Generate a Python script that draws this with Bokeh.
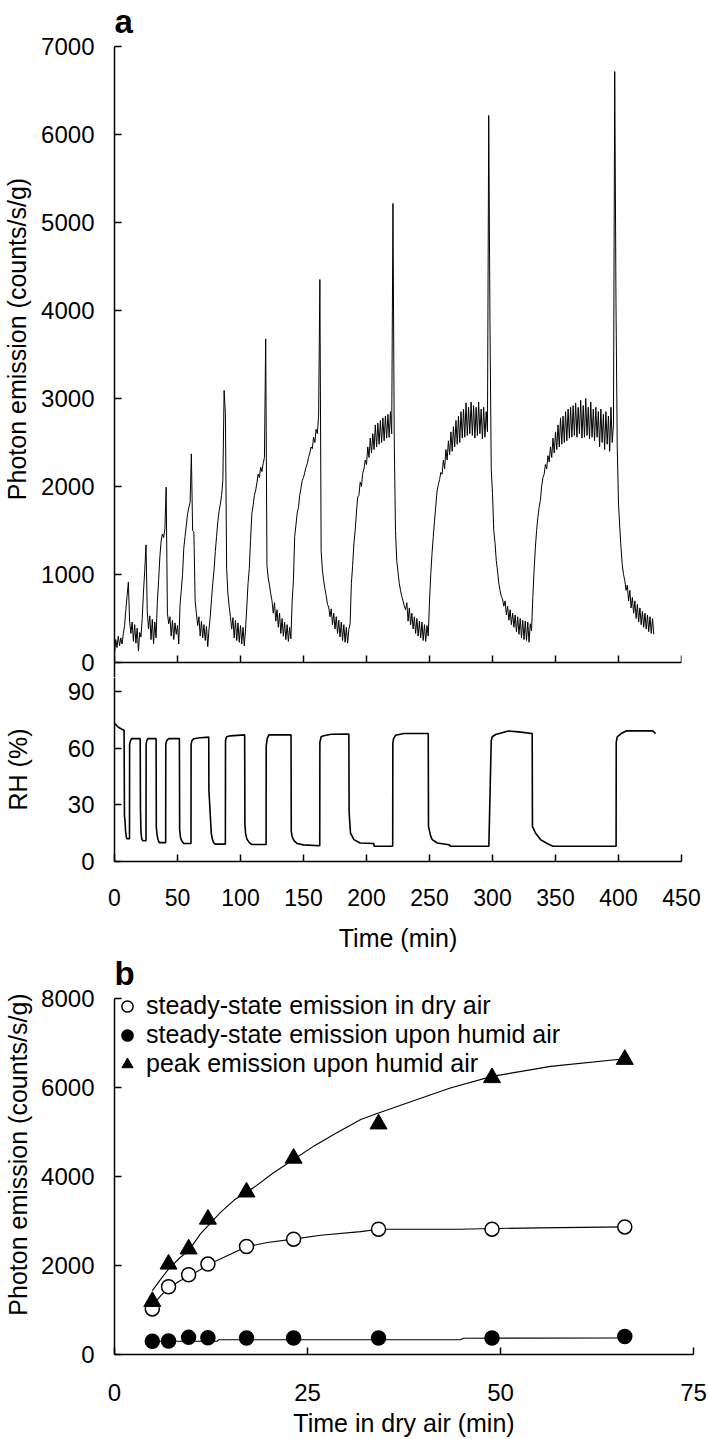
from bokeh.plotting import figure
from bokeh.layouts import column
from bokeh.models import Range1d, FixedTicker, Label, Legend, LegendItem, CustomJSTickFormatter
from bokeh.embed import file_html
from bokeh.resources import INLINE

FONT = "Liberation Sans"

# ---------------- panel a: photon emission trace (one value per minute) ----------------
photon_time = list(range(429))
photon_values = [
    100, 260, 170, 300, 190, 280, 210, 330, 420, 600,
    760, 913, 470, 330, 460, 240, 430, 220, 390, 130,
    340, 290, 500, 800, 1050, 1337, 580, 380, 530, 260,
    490, 210, 460, 280, 690, 930, 1200, 1380, 1460, 1420,
    1520, 1992, 560, 440, 520, 300, 480, 260, 450, 320,
    420, 210, 650, 820, 1000, 1300, 1430, 1560, 1690, 1760,
    1820, 2371, 1500, 1480, 700, 560, 420, 520, 300, 470,
    280, 430, 250, 410, 180, 380, 520, 720, 900, 1050,
    1260, 1430, 1600, 1720, 1800, 1900, 2070, 3091, 2830, 1070,
    780, 640, 520, 380, 510, 280, 480, 250, 450, 230,
    420, 210, 400, 190, 380, 630, 900, 1070, 1400, 1690,
    1780, 1900, 1950, 2040, 2140, 2100, 2220, 2170, 2260, 2330,
    3678, 1100, 960, 880, 780, 700, 560, 680, 470, 600,
    400, 560, 330, 500, 300, 460, 260, 430, 240, 400,
    270, 700, 930, 1430, 1560, 1700, 1760, 1900, 1980, 2070,
    2100, 2160, 2220, 2260, 2330, 2380, 2450, 2430, 2560, 2500,
    2650, 2600, 2800, 4352, 1270, 1050, 930, 840, 760, 660,
    630, 520, 610, 430, 560, 380, 520, 330, 480, 290,
    460, 250, 430, 230, 400, 220, 380, 440, 900, 1100,
    1350, 1500, 1700, 1880, 1900, 2050, 2000, 2150, 2200, 2300,
    2250, 2450, 2330, 2550, 2380, 2600, 2420, 2700, 2450, 2720,
    2480, 2750, 2500, 2780, 2520, 2800, 2550, 2820, 2560, 2850,
    2600, 5216, 2560, 1500, 1160, 1030, 900, 820, 750, 700,
    640, 600, 680, 470, 620, 430, 560, 380, 520, 330,
    500, 300, 470, 280, 460, 250, 430, 240, 420, 300,
    700, 1000, 1240, 1430, 1610, 1780, 1950, 2020, 2080, 2160,
    2140, 2300, 2200, 2420, 2300, 2520, 2360, 2620, 2400, 2680,
    2450, 2750, 2480, 2800, 2500, 2850, 2550, 2880, 2560, 2950,
    2580, 2900, 2600, 2960, 2580, 2920, 2550, 2900, 2580, 2960,
    2600, 2880, 2540, 2900, 2560, 2850, 2620, 6216, 3850, 2200,
    1920, 1500, 1360, 1160, 1040, 900, 820, 750, 720, 640,
    700, 540, 640, 480, 600, 430, 560, 400, 540, 350,
    520, 320, 500, 280, 480, 260, 470, 250, 460, 230,
    440, 360, 740, 1050, 1300, 1500, 1650, 1760, 1840, 2000,
    2100, 2140, 2250, 2200, 2350, 2280, 2450, 2330, 2550, 2380,
    2620, 2420, 2700, 2450, 2780, 2480, 2800, 2500, 2850, 2520,
    2880, 2550, 2900, 2560, 2920, 2580, 2950, 2560, 2900, 2600,
    2980, 2550, 2920, 2560, 3000, 2580, 2900, 2540, 2960, 2560,
    2880, 2520, 2900, 2560, 2850, 2450, 2880, 2500, 2820, 2420,
    2850, 2480, 2800, 2400, 2900, 2500, 2700, 6716, 4100, 2450,
    1800, 1540, 1300, 1110, 1000, 930, 820, 880, 700, 820,
    620, 740, 560, 700, 500, 660, 460, 620, 430, 580,
    400, 560, 380, 540, 350, 520, 330, 500, 320,
]

# ---------------- panel a: relative humidity (time, RH) ----------------
rh_points = [
    (0, 73), (1, 72.5), (3, 71), (6, 70), (7.6, 69.5), (7.9, 24), (8.3, 22), (8.8, 16),
    (9.4, 13), (9.8, 12), (11.9, 12), (12.0, 62), (12.5, 63.5), (13.5, 65), (20.4, 65),
    (20.6, 28), (21.0, 16), (21.6, 12), (22.5, 11), (25.0, 11), (25.1, 62), (25.6, 64),
    (26.5, 65), (33.0, 65), (33.2, 18), (33.8, 14), (34.6, 11.5), (35.5, 10), (40.6, 10),
    (40.7, 62), (41.4, 64), (43.0, 65), (51.5, 65), (51.7, 17), (52.3, 13), (53.3, 11),
    (55.0, 9.5), (60.7, 9.5), (60.8, 62), (61.5, 64), (63.0, 65), (68.0, 65.5), (74.8, 65.8),
    (74.9, 38), (76.8, 15), (77.6, 12), (78.6, 10), (80.0, 9.2), (88.0, 9.2), (88.1, 64),
    (89.0, 66), (92.0, 66.5), (103.3, 67), (103.5, 20), (104.0, 15), (105.0, 12), (107.0, 10),
    (109.0, 9), (120.3, 9), (120.4, 61), (121.2, 65), (122.5, 67), (140.1, 67), (140.3, 16),
    (141.0, 13), (142.5, 11), (145.0, 9.5), (150.0, 8.8), (162.9, 8.3), (163.0, 63),
    (164.0, 66), (166.0, 66.5), (172.0, 67.3), (186.0, 67.5), (186.2, 26), (187.3, 15),
    (190.0, 11.6), (195.0, 9.8), (205.8, 9.5), (206.0, 8.1), (220.8, 8.1), (220.9, 62.5),
    (221.5, 65), (223.0, 66.8), (229.6, 67.7), (249.0, 67.7), (249.2, 18.6), (251.0, 13.3),
    (252.2, 11.6), (256.2, 9.8), (265.4, 8.9), (266.7, 8.1), (297.1, 8.1), (299.0, 64),
    (299.8, 66), (302.5, 67.2), (312.7, 69.1), (320.6, 68.6), (331.5, 67.7), (331.7, 18.6),
    (334.1, 15.1), (338.1, 11.6), (343.4, 9.5), (347.9, 8.1), (398.1, 8.1), (398.2, 63),
    (399.0, 66), (402.1, 67.7), (406.1, 69.1), (427.2, 69.1), (429.4, 67.7),
]
rh_time = [p[0] for p in rh_points]
rh_values = [p[1] for p in rh_points]

time_ticks = [0, 50, 100, 150, 200, 250, 300, 350, 400, 450]
photon_ticks = [0, 1000, 2000, 3000, 4000, 5000, 6000, 7000]
rh_ticks = [0, 30, 60, 90]

# ---------------- panel b ----------------
t_dry = [4.9, 7.0, 9.6, 12.1, 17.1, 23.2, 34.2, 48.9, 66.1]
ss_dry = [1024, 1523, 1792, 2032, 2426, 2592, 2816, 2816, 2867]
ss_humid = [298, 305, 385, 375, 373, 373, 373, 373, 403]
peak_humid = [1190, 2030, 2370, 3040, 3650, 4410, 5180, 6220, 6630]

peak_fit_t = [4.9, 6.0, 7.0, 8.5, 9.6, 11.1, 12.1, 13.7, 15.5, 18.0, 20.6, 23.2, 25.8,
              28.4, 31.9, 34.2, 39.2, 43.5, 48.9, 56.5, 66.1]
peak_fit_v = [1434, 1695, 1920, 2180, 2330, 2704, 2890, 3188, 3470, 3748, 4084, 4383, 4682,
              4944, 5280, 5428, 5728, 5988, 6250, 6474, 6646]
dry_fit_t = [4.9, 6.0, 7.0, 8.5, 9.6, 11.1, 12.1, 14.6, 17.1, 19.8, 23.2, 26.7, 31.9, 34.2,
             44.7, 48.9, 55.0, 66.1]
dry_fit_v = [1098, 1322, 1494, 1658, 1755, 1904, 2016, 2218, 2420, 2516, 2592, 2681, 2762,
             2816, 2816, 2830, 2845, 2867]
humid_fit_t = [4.9, 13.3, 13.5, 44.8, 45.2, 66.1]
humid_fit_v = [298, 298, 333, 333, 365, 372]

b_x_ticks = [0, 25, 50, 75]
b_y_ticks = [0, 2000, 4000, 6000, 8000]

legend_labels = ["steady-state emission in dry air",
                 "steady-state emission upon humid air",
                 "peak emission upon humid air"]


def style(p):
    p.grid.visible = False
    p.outline_line_color = None
    p.background_fill_color = "white"
    p.border_fill_color = "white"
    p.frame_align = False
    for ax in p.axis:
        ax.axis_line_color = "black"
        ax.axis_line_width = 1.5
        ax.major_tick_line_color = "black"
        ax.major_tick_line_width = 1.5
        ax.major_tick_in = 7
        ax.major_tick_out = 0
        ax.minor_tick_line_color = None
        ax.minor_tick_in = 0
        ax.minor_tick_out = 0
        ax.major_label_text_font = FONT
        ax.major_label_text_font_size = "24px"
        ax.major_label_text_color = "black"
        ax.axis_label_text_font = FONT
        ax.axis_label_text_font_size = "25px"
        ax.axis_label_text_font_style = "normal"
        ax.axis_label_text_color = "black"


W = 709

# ---- figure 1: photon emission (frame runs from the page top down to the RH panel) ----
p1 = figure(width=W, height=677, title=None, x_range=Range1d(0, 450),
            y_range=Range1d(-170.5, 7522.7), output_backend="svg", toolbar_location=None,
            min_border_left=114, min_border_right=28, min_border_top=0, min_border_bottom=0)
style(p1)
p1.xaxis.fixed_location = 0
p1.xaxis.ticker = FixedTicker(ticks=time_ticks)
p1.xaxis.formatter = CustomJSTickFormatter(code="return ''")
p1.xaxis.major_label_text_font_size = "1px"
p1.xaxis.major_label_standoff = 0
p1.yaxis.ticker = FixedTicker(ticks=photon_ticks)
p1.yaxis.bounds = (-170.5, 7000)
p1.yaxis.axis_label = "Photon emission (counts/s/g)"
p1.yaxis.major_label_standoff = 20
p1.yaxis.axis_label_standoff = 7
p1.line(photon_time, photon_values, line_color="black", line_width=1)
p1.add_layout(Label(x=0, y=7287, text="a", text_font=FONT, text_font_size="33px",
                    text_font_style="bold", text_color="black", text_baseline="alphabetic"))

# ---- figure 2: RH ----
p2 = figure(width=W, height=277, title=None, x_range=p1.x_range, y_range=Range1d(0, 97.37),
            output_backend="svg", toolbar_location=None,
            min_border_left=114, min_border_right=28, min_border_top=0, min_border_bottom=92)
style(p2)
p2.xaxis.ticker = FixedTicker(ticks=time_ticks)
p2.xaxis.major_label_text_font_size = "23px"
p2.xaxis.major_label_standoff = 27
p2.xaxis.axis_label = "Time (min)"
p2.xaxis.axis_label_standoff = 15
p2.yaxis.ticker = FixedTicker(ticks=rh_ticks)
p2.yaxis.major_label_standoff = 20
p2.yaxis.axis_label = "RH (%)"
p2.yaxis.axis_label_standoff = 33
p2.line(rh_time, rh_values, line_color="black", line_width=1.6)

# ---- figure 3: panel b (frame extends above 8000 so the legend and "b" are not clipped) ----
p3 = figure(width=W, height=485, title=None, x_range=Range1d(0, 75), y_range=Range1d(0, 8988.8),
            output_backend="svg", toolbar_location=None,
            min_border_left=114, min_border_right=16, min_border_top=0, min_border_bottom=85)
style(p3)
p3.xaxis.ticker = FixedTicker(ticks=b_x_ticks)
p3.xaxis.major_label_standoff = 29
p3.xaxis.axis_label = "Time in dry air (min)"
p3.xaxis.axis_label_standoff = 5
p3.yaxis.ticker = FixedTicker(ticks=b_y_ticks)
p3.yaxis.bounds = (0, 8000)
p3.yaxis.major_label_standoff = 20
p3.yaxis.axis_label = "Photon emission (counts/s/g)"
p3.yaxis.axis_label_standoff = 6

p3.line(peak_fit_t, peak_fit_v, line_color="black", line_width=1.1)
p3.line(dry_fit_t, dry_fit_v, line_color="black", line_width=1.1)
p3.line(humid_fit_t, humid_fit_v, line_color="black", line_width=1.1)
r_open = p3.scatter(t_dry, ss_dry, marker="circle", size=14, fill_color="white",
                    line_color="black", line_width=1.5)
r_fill = p3.scatter(t_dry, ss_humid, marker="circle", size=14, fill_color="black",
                    line_color="black", line_width=1.5)
r_tri = p3.scatter(t_dry, peak_humid, marker="triangle", size=17, fill_color="black",
                   line_color="black", line_width=1)

legend = Legend(items=[LegendItem(label=legend_labels[0], renderers=[r_open]),
                       LegendItem(label=legend_labels[1], renderers=[r_fill]),
                       LegendItem(label=legend_labels[2], renderers=[r_tri])],
                location=(-2, 276), orientation="vertical")
legend.label_text_font = FONT
legend.label_text_font_size = "25px"
legend.label_text_color = "black"
legend.background_fill_alpha = 0
legend.border_line_color = None
legend.padding = 0
legend.margin = 0
legend.spacing = 0
legend.glyph_width = 30
legend.glyph_height = 28
legend.label_standoff = 4
p3.add_layout(legend)
p3.add_layout(Label(x=0, y=8562, text="b", text_font=FONT, text_font_size="33px",
                    text_font_style="bold", text_color="black", text_baseline="alphabetic"))

layout = column(p1, p2, p3)
open("out.html", "w").write(file_html(layout, INLINE))
